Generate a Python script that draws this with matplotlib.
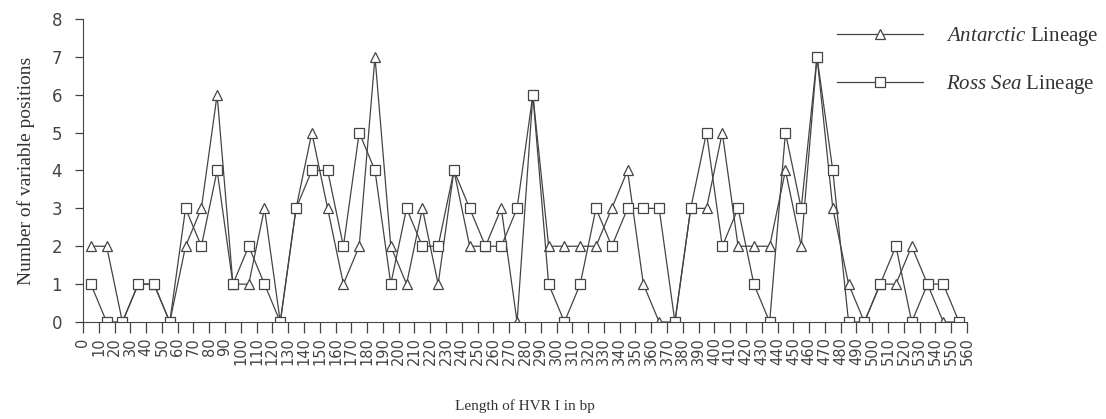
import matplotlib
matplotlib.use("Agg")
from matplotlib import pyplot as plt
import numpy as np

# HVR I window start (bp), one point per 10 bp window
window = np.arange(0, 560, 10)

antarctic = [2, 2, 0, 1, 1, 0, 2, 3, 6, 1,
             1, 3, 0, 3, 5, 3, 1, 2, 7, 2,
             1, 3, 1, 4, 2, 2, 3, 0, 6, 2,
             2, 2, 2, 3, 4, 1, 0, 0, 3, 3,
             5, 2, 2, 2, 4, 2, 7, 3, 1, 0,
             1, 1, 2, 1, 0, 0]
ross_sea = [1, 0, 0, 1, 1, 0, 3, 2, 4, 1,
            2, 1, 0, 3, 4, 4, 2, 5, 4, 1,
            3, 2, 2, 4, 3, 2, 2, 3, 6, 1,
            0, 1, 3, 2, 3, 3, 3, 0, 3, 5,
            2, 3, 1, 0, 5, 3, 7, 4, 0, 0,
            1, 2, 0, 1, 1, 0]
tick_labels = [str(v) for v in range(0, 570, 10)]

plt.rcParams['mathtext.fontset'] = 'custom'
plt.rcParams['mathtext.it'] = 'Liberation Serif:italic'
plt.rcParams['mathtext.rm'] = 'Liberation Serif'

fig = plt.figure(figsize=(11.06, 4.19), dpi=100)
ax = fig.add_axes([0.075, 0.2315, 0.7993, 0.7232])

line_col = '#444444'
txt_col = '#555555'
# points sit in the middle of each 10 bp bin
xpos = window + 5
ax.plot(xpos, antarctic, '-', color=line_col, lw=0.9, marker='^', markersize=7,
        markerfacecolor='white', markeredgecolor=line_col, markeredgewidth=0.9,
        label=r'$\mathit{Antarctic}$ Lineage')
ax.plot(xpos, ross_sea, '-', color=line_col, lw=0.9, marker='s', markersize=7.5,
        markerfacecolor='white', markeredgecolor=line_col, markeredgewidth=0.9,
        label=r'$\mathit{Ross\ Sea}$ Lineage')

ax.set_xlim(0, 560)
ax.set_ylim(0, 8)
ax.set_xticks(range(0, 570, 10))
ax.set_xticklabels(tick_labels, rotation=90, va='top', ha='center',
                   fontsize=10.5, color=txt_col, family='DejaVu Sans')
ax.set_yticks(range(0, 9))
for lab in ax.get_yticklabels():
    lab.set_fontsize(12)
    lab.set_color(txt_col)
    lab.set_family('DejaVu Sans')

ax.spines['top'].set_visible(False)
ax.spines['right'].set_visible(False)
ax.spines['left'].set_color(line_col)
ax.spines['bottom'].set_color(line_col)
ax.tick_params(axis='y', direction='out', length=6, width=0.9, pad=9, colors=line_col)
ax.tick_params(axis='x', direction='out', length=8, width=0.9, pad=3, colors=line_col)

ax.set_xlabel('Length of HVR I in bp', family='Liberation Serif', fontsize=11,
              color='#333333', labelpad=24)
ax.set_ylabel('Number of variable positions', family='Liberation Serif', fontsize=14,
              color='#333333', labelpad=12)

leg = fig.legend(loc='upper left', bbox_to_anchor=(0.757, 0.94), frameon=False,
                 handlelength=4.1, handletextpad=1.1, labelspacing=1.2,
                 borderpad=0, borderaxespad=0,
                 prop={'family': 'Liberation Serif', 'size': 15})
for t in leg.get_texts():
    t.set_color('#333333')

fig.savefig('out.png', dpi=100)
